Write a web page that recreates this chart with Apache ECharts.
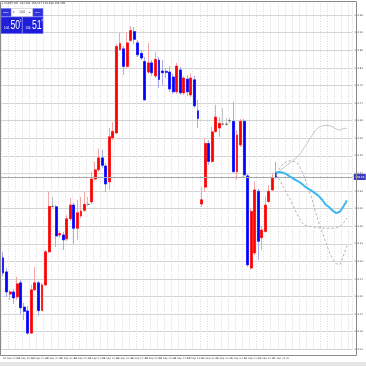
<!DOCTYPE html>
<html><head><meta charset="utf-8">
<script src="https://cdn.jsdelivr.net/npm/echarts@6/dist/echarts.min.js"></script>
<style>html,body{margin:0;padding:0;background:#fff}#c{width:366px;height:366px}</style>
</head><body><div id="c"></div>
<script>
// ---- data ----
const tickLabels = ['18 Sep 2020','18 Sep 19:40','18 Sep 20:00','18 Sep 20:20','18 Sep 20:40','18 Sep 21:00','18 Sep 21:20','18 Sep 21:40','18 Sep 22:00','18 Sep 22:20','18 Sep 22:40','18 Sep 23:00','18 Sep 23:20','18 Sep 23:40','21 Sep 00:00','21 Sep 00:20','21 Sep 00:40','21 Sep 01:00','21 Sep 01:20','21 Sep 01:40'];
const candleOpen = [104.270,104.230,104.167,104.173,104.159,104.199,104.130,104.119,104.056,104.179,
104.199,104.120,104.193,104.287,104.416,104.415,104.335,104.335,104.324,104.381,
104.420,104.354,104.389,104.405,104.422,104.429,104.494,104.520,104.554,104.531,
104.486,104.611,104.625,104.862,104.864,104.814,104.888,104.913,104.881,104.851,
104.828,104.798,104.824,104.787,104.832,104.801,104.800,104.798,104.784,104.742,
104.804,104.739,104.778,104.733,104.776,104.688,104.423,104.471,104.595,104.544,
104.629,104.639,104.650,104.650,104.660,104.658,104.515,104.591,104.658,104.503,
104.241,104.284,104.459,104.327,104.345,104.430,104.463,104.512];
const candleClose = [104.227,104.173,104.173,104.156,104.196,104.128,104.118,104.056,104.179,104.199,
104.120,104.193,104.287,104.416,104.416,104.332,104.339,104.321,104.381,104.420,
104.354,104.398,104.403,104.422,104.422,104.494,104.520,104.554,104.533,104.480,
104.614,104.629,104.871,104.879,104.814,104.881,104.916,104.891,104.847,104.838,
104.719,104.824,104.796,104.834,104.777,104.796,104.797,104.750,104.742,104.815,
104.739,104.781,104.742,104.781,104.702,104.666,104.435,104.595,104.544,104.628,
104.670,104.652,104.650,104.650,104.660,104.515,104.619,104.658,104.506,104.250,
104.402,104.463,104.317,104.349,104.420,104.459,104.496,104.500];
const candleLow = [104.218,104.159,104.150,104.139,104.150,104.110,104.093,104.051,104.054,104.176,
104.105,104.119,104.190,104.284,104.412,104.301,104.327,104.292,104.318,104.375,
104.309,104.321,104.383,104.400,104.417,104.423,104.489,104.514,104.525,104.457,
104.463,104.605,104.622,104.858,104.790,104.810,104.884,104.878,104.841,104.832,
104.716,104.793,104.787,104.781,104.753,104.759,104.781,104.742,104.736,104.736,
104.733,104.733,104.730,104.727,104.696,104.639,104.415,104.457,104.534,104.540,
104.625,104.614,104.645,104.645,104.653,104.511,104.491,104.585,104.500,104.244,
104.236,104.278,104.264,104.292,104.341,104.426,104.460,104.494];
const candleHigh = [104.287,104.241,104.179,104.181,104.216,104.207,104.142,104.133,104.193,104.244,
104.204,104.199,104.292,104.457,104.443,104.420,104.346,104.344,104.392,104.440,
104.426,104.435,104.443,104.457,104.443,104.514,104.543,104.581,104.577,104.540,
104.639,104.656,104.878,104.909,104.872,104.911,104.928,104.926,104.889,104.861,
104.841,104.881,104.832,104.855,104.841,104.832,104.810,104.815,104.793,104.824,
104.813,104.787,104.790,104.793,104.787,104.719,104.471,104.611,104.605,104.643,
104.705,104.670,104.696,104.668,104.668,104.714,104.633,104.665,104.665,104.508,
104.412,104.487,104.466,104.361,104.444,104.477,104.511,104.543];
const forecastStart = 77;
const forecastMain = [104.512,104.514,104.512,104.507,104.501,104.494,104.489,104.483,104.474,104.467,104.461,104.454,104.446,104.435,104.421,104.414,104.404,104.397,104.401,104.416,104.433];
const forecastUpper = [104.510,104.518,104.525,104.533,104.540,104.548,104.557,104.568,104.584,104.599,104.616,104.631,104.641,104.645,104.646,104.646,104.642,104.636,104.633,104.638,104.638];
const forecastLower = [104.507,104.491,104.473,104.454,104.436,104.415,104.393,104.375,104.363,104.360,104.359,104.357,104.355,104.354,104.354,104.354,104.354,104.356,104.359,104.369,104.383];
const forecastMid = [104.510,104.525,104.537,104.544,104.546,104.544,104.540,104.523,104.500,104.469,104.443,104.405,104.372,104.344,104.315,104.287,104.267,104.253,104.251,104.275,104.304];
const totalSlots = 99;
const priceMin = 104.01, priceMax = 105.00, priceStep = 0.05;
const lastPrice = 104.500;
const symbolTitle = '\u25BE USDJPY,M5  104.501 104.517 104.498 104.500';

// ---- build ----
const cats = [];
for (let i = 0; i < totalSlots; i++) cats.push(String(i));
const wickData = [], bodyData = [];
for (let i = 0; i < candleOpen.length; i++) {
  const o = candleOpen[i], c = candleClose[i];
  const doji = o === c;
  wickData.push(doji ? {value:[o,c,candleLow[i],candleHigh[i]], itemStyle:{borderColor:'#c4c4c4',borderColor0:'#c4c4c4'}} : [o,c,candleLow[i],candleHigh[i]]);
  bodyData.push(doji ? {value:[o,c,o,c], itemStyle:{borderColor:'#505050',borderColor0:'#505050',color:'#505050',color0:'#505050'}} : [o,c,Math.min(o,c),Math.max(o,c)]);
}
function pad(arr){ const out=[]; for(let i=0;i<totalSlots;i++){ const j=i-forecastStart; out.push(j>=0&&j<arr.length?arr[j]:'-'); } return out; }

const chart = echarts.init(document.getElementById('c'));
chart.setOption({
  animation:false,
  backgroundColor:'#ffffff',
  grid:{left:-1,right:10,top:1,bottom:16.7,containLabel:false},
  xAxis:{type:'category',data:cats,boundaryGap:true,
    axisLine:{show:false},axisTick:{show:false},
    axisLabel:{interval:0,align:'left',margin:8,fontSize:2.5,color:'#555',fontFamily:'DejaVu Sans',
      formatter:(v,idx)=> (idx%4===0 && tickLabels[idx/4]) ? tickLabels[idx/4] : ''},
    splitLine:{show:true,interval:1,lineStyle:{color:'#d9d9d9',width:1,type:[1,1.5]}}},
  yAxis:{type:'value',position:'right',min:priceMin,max:priceMax,interval:priceStep,scale:true,
    axisLine:{show:false},axisTick:{show:false},
    axisLabel:{margin:2,fontSize:2.5,color:'#444',showMaxLabel:false,fontFamily:'DejaVu Sans',formatter:v=>v.toFixed(2)},
    splitLine:{show:true,lineStyle:{color:'#d4d4d4',width:1}}},
  series:[
    {type:'candlestick',name:'wick',data:wickData,barWidth:2.4,z:2,silent:true,
      itemStyle:{color:'transparent',color0:'transparent',borderColor:'#f2a6a6',borderColor0:'#a9acf2',borderWidth:1}},
    {type:'candlestick',name:'body',data:bodyData,barWidth:2.4,z:3,silent:true,
      itemStyle:{color:'#ff0000',color0:'#0000ff',borderColor:'#ff0000',borderColor0:'#0000ff',borderWidth:0.6}},
    {type:'line',name:'upper',data:pad(forecastUpper),showSymbol:false,z:4,silent:true,
      lineStyle:{color:'#c6c6c6',width:1}},
    {type:'line',name:'lower',data:pad(forecastLower),showSymbol:false,z:4,silent:true,
      lineStyle:{color:'#b4b4b4',width:1,type:[2.5,2]}},
    {type:'line',name:'mid',data:pad(forecastMid),showSymbol:false,z:4,silent:true,
      lineStyle:{color:'#b4b4b4',width:1,type:[2.5,2]}},
    {type:'line',name:'forecast',data:pad(forecastMain),showSymbol:false,z:5,silent:true,
      lineStyle:{color:'#3db8f0',width:2},
      markLine:{silent:true,symbol:['none','none'],animation:false,
        lineStyle:{color:'#a8a8a8',width:1,type:'solid'},
        label:{show:true,position:'end',distance:1.5,formatter:()=>lastPrice.toFixed(2),
          backgroundColor:'#3b3bc4',color:'#ffffff',fontSize:2.6,padding:[1.6,1.5],fontFamily:'DejaVu Sans'},
        data:[{yAxis:lastPrice}]}}
  ],
  graphic:[
    {type:'rect',z:100,shape:{x:0,y:362,width:366,height:4},style:{fill:'#e6e6e6'}},
    {type:'rect',z:100,shape:{x:0.5,y:1.5,width:356,height:354},style:{fill:'none',stroke:'#8a8a8a',lineWidth:1}},
    {type:'text',z:100,x:2,y:2.2,style:{text:symbolTitle,fontSize:2.6,fill:'#333',fontFamily:'DejaVu Sans'}},
    {type:'rect',z:100,shape:{x:1,y:8.5,width:10,height:8},style:{fill:'#2f2fdc',stroke:'#7070ff',lineWidth:0.5}},
    {type:'text',z:101,x:6,y:12.5,style:{text:'SELL',fontSize:2.4,fill:'#fff',align:'center',verticalAlign:'middle'}},
    {type:'rect',z:100,shape:{x:11.5,y:8.5,width:21,height:8},style:{fill:'#ffffff',stroke:'#b8b8b8',lineWidth:0.5}},
    {type:'text',z:101,x:14,y:12.5,style:{text:'\u25BE',fontSize:3,fill:'#555',align:'center',verticalAlign:'middle'}},
    {type:'text',z:101,x:22,y:12.5,style:{text:'1.00',fontSize:2.8,fill:'#333',align:'center',verticalAlign:'middle'}},
    {type:'text',z:101,x:30,y:12.5,style:{text:'\u25B4',fontSize:3,fill:'#555',align:'center',verticalAlign:'middle'}},
    {type:'rect',z:100,shape:{x:33,y:8.5,width:10,height:8},style:{fill:'#2f2fdc',stroke:'#7070ff',lineWidth:0.5}},
    {type:'text',z:101,x:38,y:12.5,style:{text:'BUY',fontSize:2.4,fill:'#fff',align:'center',verticalAlign:'middle'}},
    {type:'rect',z:100,shape:{x:1,y:17,width:21,height:16.5},style:{fill:'#1e1ed8',stroke:'#6a6aff',lineWidth:0.6}},
    {type:'rect',z:100,shape:{x:22.5,y:17,width:20.5,height:16.5},style:{fill:'#1e1ed8',stroke:'#6a6aff',lineWidth:0.6}},
    {type:'text',z:101,x:4,y:30,style:{text:'104.',fontSize:3,fill:'#fff',verticalAlign:'bottom'}},
    {type:'text',z:101,x:10.5,y:20,scaleX:0.72,style:{text:'50',fontSize:12,fill:'#fff',verticalAlign:'top',fontFamily:'Liberation Sans'}},
    {type:'text',z:101,x:19.5,y:19.5,style:{text:'1',fontSize:3.5,fill:'#fff',verticalAlign:'top'}},
    {type:'text',z:101,x:25.5,y:30,style:{text:'104.',fontSize:3,fill:'#fff',verticalAlign:'bottom'}},
    {type:'text',z:101,x:32,y:20,scaleX:0.72,style:{text:'51',fontSize:12,fill:'#fff',verticalAlign:'top',fontFamily:'Liberation Sans'}},
    {type:'text',z:101,x:41,y:19.5,style:{text:'7',fontSize:3.5,fill:'#fff',verticalAlign:'top'}}
  ]
});
</script></body></html>
